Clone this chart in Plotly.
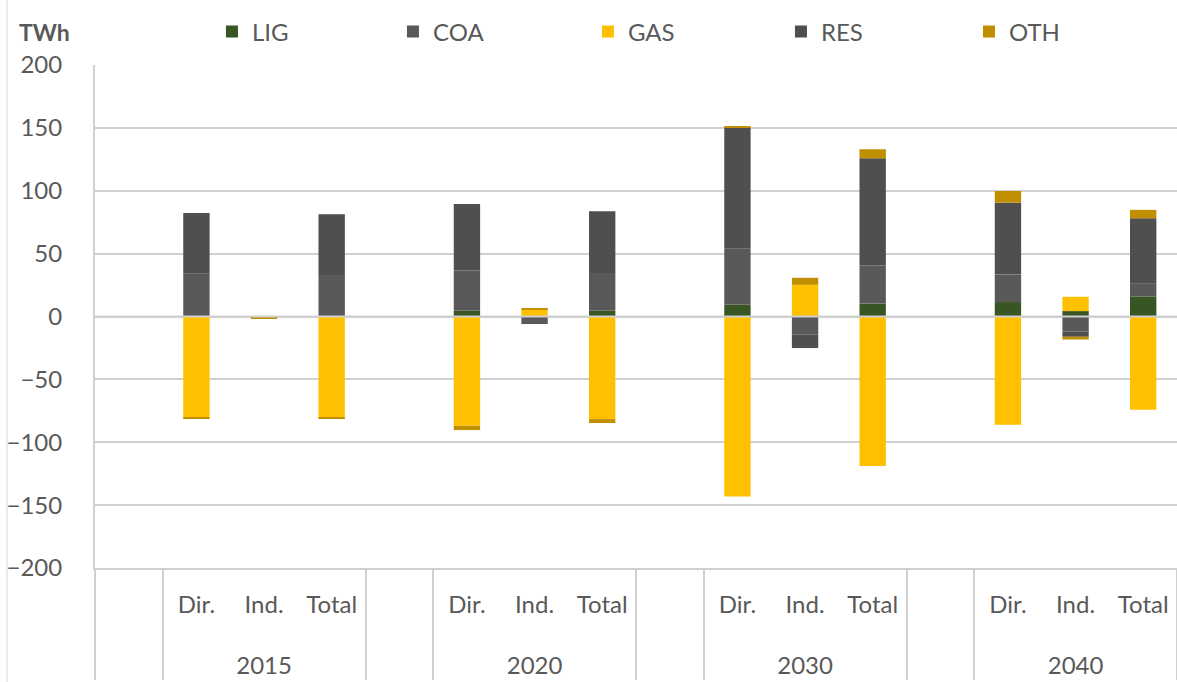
import plotly.graph_objects as go

# ---- data ----
years = ["2015", "2020", "2030", "2040"]
subcats = ["Dir.", "Ind.", "Total"]
series_names = ["LIG", "COA", "GAS", "RES", "OTH"]
LIG = [0, 0, 0, 4.5, 0, 4.5, 9.3, 0, 10.3, 11.5, 4.3, 16]
COA = [34, 0, 33, 32, -6, 30, 44.5, -14.5, 30.2, 22, -11.9, 10.5]
GAS = [-80.3, -0.8, -80.3, -86.9, 5.6, -81.6, -143.1, 25.2, -118.9, -86.1, 11.4, -74.2]
RES = [48.4, 0, 48.3, 53, 0, 49.2, 96.5, -10.6, 85.3, 57, -4.2, 51.6]
OTH = [-0.8, -1.0, -0.8, -3.4, 1.1, -3.1, 0.8, 5.6, 7.2, 9.3, -2.2, 6.7]
colors = ["#375623", "#595959", "#FFC000", "#4F4F4F", "#BF8F00"]
legend_widths = [136, 150, 148, 143, 100]

# blank slot before every year group (Excel layout)
PAD = "<br><span style='font-size:61px'> </span>"
blank_groups = [" ", "  ", "   ", "    "]
xg, xs = [], []
for b, yr in zip(blank_groups, years):
    xg.append(b); xs.append(" " + PAD)
    for s in subcats:
        xg.append(yr); xs.append(s + PAD)

def expand(vals):
    out = []
    k = 0
    for _ in years:
        out.append(None)
        for _ in subcats:
            out.append(vals[k]); k += 1
    return out

FONT = "Lato"
TXT = "#595959"
GRID = "#D0D0D0"

fig = go.Figure()
for name, vals, col, lw in zip(series_names, [LIG, COA, GAS, RES, OTH], colors, legend_widths):
    fig.add_trace(go.Bar(name=name, x=[xg, xs], y=expand(vals), legendwidth=lw,
                         marker=dict(color=col, line=dict(width=0))))

fig.update_layout(
    width=1177, height=682,
    barmode="relative", bargap=0.61,
    paper_bgcolor="white", plot_bgcolor="white",
    margin=dict(l=95, r=0, t=65, b=114),
    font=dict(family=FONT, size=24, color=TXT),
    showlegend=True,
    legend=dict(orientation="h", x=0.1081, xanchor="left", y=1.0656, yanchor="middle",
                entrywidthmode="pixels", traceorder="normal",
                font=dict(family=FONT, size=24, color=TXT), bgcolor="rgba(0,0,0,0)"),
    annotations=[dict(text="<b>TWh</b>", xref="paper", yref="paper", x=-0.072, y=1.0656,
                      xanchor="left", yanchor="middle", showarrow=False,
                      font=dict(family=FONT, size=23, color=TXT))],
    shapes=[
        dict(type="line", xref="paper", yref="y", x0=0, x1=1, y0=0, y1=0,
             line=dict(color=GRID, width=2), layer="above"),
        dict(type="line", xref="paper", yref="paper", x0=-0.0813, x1=-0.0813, y0=-0.23, y1=1.14,
             line=dict(color="#D9D9D9", width=1)),
    ],
)
fig.update_yaxes(range=[-200, 200], dtick=50, tick0=0, showgrid=True, gridcolor=GRID, gridwidth=2,
                 zeroline=False, showline=True, linecolor=GRID, linewidth=2,
                 ticks="", ticklabelstandoff=26, tickfont=dict(family=FONT, size=24, color=TXT))
fig.update_xaxes(type="multicategory", showline=True, linecolor=GRID, linewidth=2,
                 showdividers=True, dividercolor=GRID, dividerwidth=2,
                 showgrid=False, ticks="", ticklabelstandoff=14,
                 tickfont=dict(family=FONT, size=24, color=TXT))

fig.write_html("out.html", config={"displayModeBar": False},
               post_script="document.body.style.margin='0';document.body.style.overflow='hidden';")
